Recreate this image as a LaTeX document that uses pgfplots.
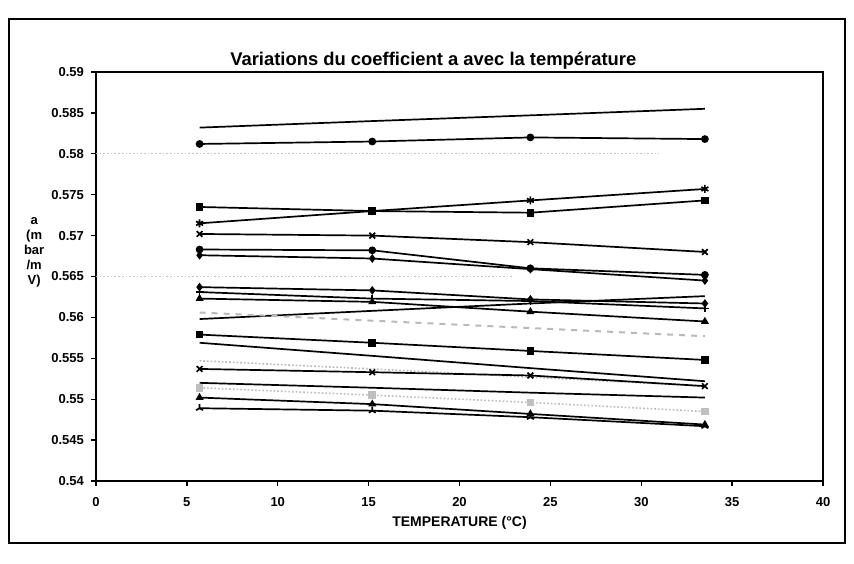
\documentclass[border=0pt]{standalone}
\usepackage{pgfplots}
\pgfplotsset{compat=1.18}
\usepackage{fontspec}
\setmainfont{Liberation Sans}
\usetikzlibrary{plotmarks}

\begin{document}
\begin{tikzpicture}
\begin{axis}[
    width=363.5pt, height=204.5pt, scale only axis,
    xmin=0, xmax=40, ymin=0.54, ymax=0.59,
    xtick={0,5,10,15,20,25,30,35,40},
    ytick={0.54,0.545,0.55,0.555,0.56,0.565,0.57,0.575,0.58,0.585,0.59},
    yticklabels={0.54,0.545,0.55,0.555,0.56,0.565,0.57,0.575,0.58,0.585,0.59},
    scaled y ticks=false,
    /pgf/number format/assume math mode=true,
    tick pos=left, tick align=outside, major tick length=2.5pt,
    axis line style={line width=0.8pt},
    tick style={line width=0.7pt, black},
    ticklabel style={font=\bfseries\fontsize{6.5}{7}\selectfont},
    xticklabel style={yshift=-2pt},
    clip=false,
    title={Variations du coefficient a avec la température},
    every axis title shift=0pt,
    title style={at={(rel axis cs:0.464,1.016)}, anchor=base,
        font=\bfseries\fontsize{9.2}{10}\selectfont},
    xlabel={TEMPERATURE (°C)},
    xlabel style={at={(rel axis cs:0.5,-0.103)}, anchor=center,
        font=\bfseries\fontsize{7}{8}\selectfont},
    ylabel={a\\(m\\bar\\/m\\V)},
    ylabel style={at={(rel axis cs:-0.085,0.559)}, rotate=-90, anchor=center,
        align=center, font=\bfseries\fontsize{6.5}{7.5}\selectfont},
    every axis plot/.append style={black, line width=0.85pt, mark size=1.5pt},
]

% faint lines of the printout
\addplot[gray!45, densely dotted, line width=0.5pt, mark=none] coordinates {(0,0.58)(31,0.58)};
\addplot[gray!45, densely dotted, line width=0.5pt, mark=none] coordinates {(0,0.565)(23,0.565)};

% upper group
\addplot[mark=none] coordinates {(5.7,0.5832)(15.2,0.5840)(23.9,0.5847)(33.5,0.5855)};
\addplot[mark=*] coordinates {(5.7,0.5812)(15.2,0.5815)(23.9,0.5820)(33.5,0.5818)};
\addplot[mark=asterisk, mark size=2pt] coordinates {(5.7,0.5715)(15.2,0.5730)(23.9,0.5743)(33.5,0.5757)};
\addplot[mark=square*] coordinates {(5.7,0.5735)(15.2,0.5730)(23.9,0.5728)(33.5,0.5743)};
\addplot[mark=x, mark size=2pt] coordinates {(5.7,0.5702)(15.2,0.5700)(23.9,0.5692)(33.5,0.5680)};
\addplot[mark=*] coordinates {(5.7,0.5683)(15.2,0.5682)(23.9,0.5660)(33.5,0.5652)};
\addplot[mark=diamond*] coordinates {(5.7,0.5676)(15.2,0.5672)(23.9,0.5659)(33.5,0.5645)};

% middle group
\addplot[mark=diamond*] coordinates {(5.7,0.5637)(15.2,0.5633)(23.9,0.5622)(33.5,0.5617)};
\addplot[mark=+, mark size=2pt] coordinates {(5.7,0.5631)(15.2,0.5623)(23.9,0.5620)(33.5,0.5611)};
\addplot[mark=triangle*] coordinates {(5.7,0.5623)(15.2,0.5619)(23.9,0.5607)(33.5,0.5595)};
\addplot[mark=none] coordinates {(5.7,0.5598)(15.2,0.5608)(23.9,0.5617)(33.5,0.5626)};
\addplot[gray!55, dashed, line width=1pt, mark=none] coordinates {(5.7,0.5606)(15.2,0.5596)(23.9,0.5587)(33.5,0.5577)};

% lower group
\addplot[mark=square*] coordinates {(5.7,0.5579)(15.2,0.5569)(23.9,0.5559)(33.5,0.5548)};
\addplot[mark=none] coordinates {(5.7,0.5569)(15.2,0.5553)(23.9,0.5538)(33.5,0.5522)};
\addplot[gray!55, densely dotted, line width=0.8pt, mark=none] coordinates {(5.7,0.5547)(15.2,0.5537)(23.9,0.5527)(33.5,0.5516)};
\addplot[mark=x, mark size=2pt] coordinates {(5.7,0.5537)(15.2,0.5533)(23.9,0.5529)(33.5,0.5516)};
\addplot[mark=none] coordinates {(5.7,0.5520)(15.2,0.5514)(23.9,0.5508)(33.5,0.5502)};
\addplot[gray!50, densely dotted, line width=0.8pt, mark=square*, mark options={solid}] coordinates {(5.7,0.5514)(15.2,0.5505)(23.9,0.5496)(33.5,0.5485)};
\addplot[mark=triangle*] coordinates {(5.7,0.5502)(15.2,0.5494)(23.9,0.5482)(33.5,0.5469)};
\addplot[mark=Mercedes star, mark size=2pt] coordinates {(5.7,0.5489)(15.2,0.5486)(23.9,0.5478)(33.5,0.5467)};

% chart area border and page extent
\draw[line width=0.6pt] (rel axis cs:-0.1197,-0.1516) rectangle (rel axis cs:1.0303,1.1296);
\path (rel axis cs:-0.132,-0.2005) rectangle (rel axis cs:1.0426,1.176);
\end{axis}
\end{tikzpicture}
\end{document}
